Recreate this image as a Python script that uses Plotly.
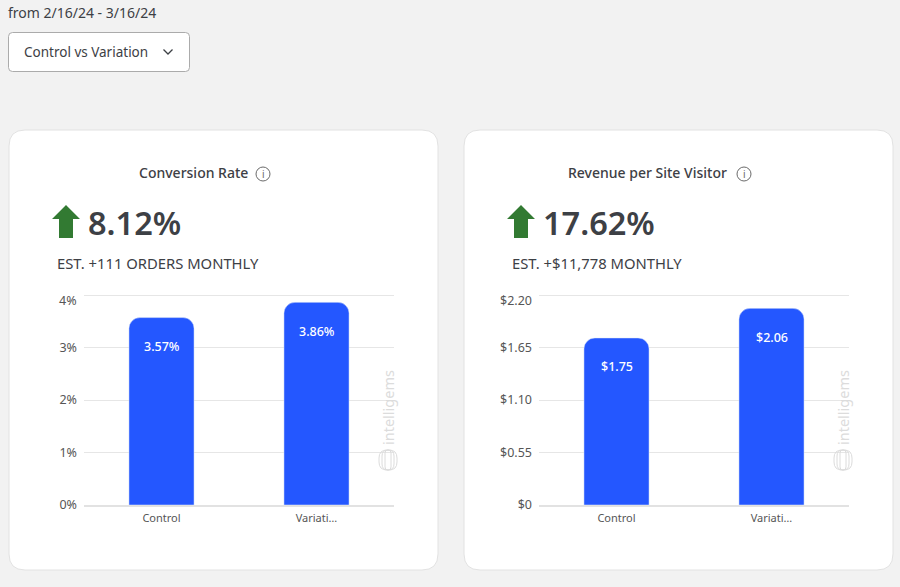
import plotly.graph_objects as go

W = 900
H = 587
FONT = "Noto Sans"
DARK = "#3d4045"
GREY = "#565656"
BLUE = "#2457ff"
GREEN = "#327a32"

categories = ["Control", "Variati…"]
conversion_values = [3.57, 3.86]
conversion_labels = ["3.57%", "3.86%"]
conversion_ticks = [0, 1, 2, 3, 4]
conversion_ticktext = ["0%", "1%", "2%", "3%", "4%"]
revenue_values = [1.75, 2.06]
revenue_labels = ["$1.75", "$2.06"]
revenue_ticks = [0, 0.55, 1.10, 1.65, 2.20]
revenue_ticktext = ["$0", "$0.55", "$1.10", "$1.65", "$2.20"]


def px(x):
    return x / W


def py(y):
    return 1 - y / H


def rounded(x0, y0, x1, y1, r):
    # rounded box in page pixels, as a paper-coordinate path
    pts = [
        f"M {px(x0 + r)} {py(y0)}",
        f"L {px(x1 - r)} {py(y0)}",
        f"Q {px(x1)} {py(y0)} {px(x1)} {py(y0 + r)}",
        f"L {px(x1)} {py(y1 - r)}",
        f"Q {px(x1)} {py(y1)} {px(x1 - r)} {py(y1)}",
        f"L {px(x0 + r)} {py(y1)}",
        f"Q {px(x0)} {py(y1)} {px(x0)} {py(y1 - r)}",
        f"L {px(x0)} {py(y0 + r)}",
        f"Q {px(x0)} {py(y0)} {px(x0 + r)} {py(y0)}",
        "Z",
    ]
    return " ".join(pts)


def poly(points, close=True):
    s = " ".join(("M" if i == 0 else "L") + f" {px(a)} {py(b)}" for i, (a, b) in enumerate(points))
    return s + (" Z" if close else "")


shapes = []
notes = []


def box(x0, y0, x1, y1, r, fill, line, width=1, layer="below"):
    shapes.append(dict(type="path", xref="paper", yref="paper", path=rounded(x0, y0, x1, y1, r),
                       fillcolor=fill, line=dict(color=line, width=width), layer=layer))


def label(x, y, text, size, color=DARK, anchor="left", angle=0, weight=400):
    notes.append(dict(xref="paper", yref="paper", x=px(x), y=py(y), text=text, showarrow=False,
                      xanchor=anchor, yanchor="middle", textangle=angle, borderpad=0, borderwidth=0,
                      font=dict(family=FONT, size=size, color=color, weight=weight)))


def card(left, title, title_x, icon_x, big, big_x, est, est_x, arrow_x):
    box(left, 130, left + 429, 570, 16, "white", "#e2e2e2", 1)
    label(title_x, 172.5, title, 14, weight=500)
    # info icon
    shapes.append(dict(type="circle", xref="paper", yref="paper", layer="above",
                       x0=px(icon_x - 7), x1=px(icon_x + 7), y0=py(181), y1=py(167),
                       line=dict(color="#6a6a6a", width=1)))
    label(icon_x, 174, "i", 10, color="#6a6a6a", anchor="center")
    # green up arrow
    a = arrow_x
    shapes.append(dict(type="path", xref="paper", yref="paper", layer="above", fillcolor=GREEN,
                       line=dict(color=GREEN, width=0),
                       path=poly([(a, 219), (a + 14, 205), (a + 28, 219), (a + 21, 219),
                                  (a + 21, 238), (a + 7, 238), (a + 7, 219)])))
    label(big_x, 223, big, 32.5, weight=600)
    label(est_x, 262.5, est, 14.8)
    # watermark
    wx = left + 379
    label(wx, 408, "intelligems", 14.5, color="#dcdcdc", anchor="center", angle=-90)
    for half, r in ((9, 8), (6, 6), (3, 3)):
        box(wx - half, 450, wx + half, 470, r, "rgba(0,0,0,0)", "#dcdcdc", 1, layer="above")


def style_axes(fig, n, x0, ticks, ticktext, top):
    x_key = "xaxis" if n == 1 else f"xaxis{n}"
    y_key = "yaxis" if n == 1 else f"yaxis{n}"
    # top tick label sits lower than its gridline, so it is drawn separately below
    shown = list(ticktext[:-1]) + [""]
    # plotly drops gridlines within 1px of the plot edge, so leave 1.5px of headroom
    fig.update_layout({
        x_key: dict(domain=[px(x0), px(x0 + 310)], range=[-0.5, 1.5], type="category",
                    showgrid=False, showline=True, linecolor="#e2e2e2", linewidth=1.5,
                    ticks="", ticklabelstandoff=2, anchor=f"y{'' if n == 1 else n}", automargin=False,
                    tickfont=dict(family=FONT, size=11, color=GREY)),
        y_key: dict(domain=[py(505), py(293.5)], range=[0, top * (1 + 1.5 / 210)], tickvals=ticks,
                    ticktext=shown, showgrid=True, gridcolor="#e6e6e6", gridwidth=1.2, zeroline=False,
                    automargin=False, ticks="", ticklabelstandoff=6, anchor=f"x{'' if n == 1 else n}",
                    tickfont=dict(family=FONT, size=12.5, color=GREY)),
    })
    notes.append(dict(xref="paper", yref=f"y{'' if n == 1 else n}", x=px(x0 - 6), y=top, yshift=-5,
                      text=ticktext[-1], showarrow=False, xanchor="right", borderpad=0,
                      font=dict(family=FONT, size=12.5, color=GREY)))


fig = go.Figure()
fig.add_trace(go.Bar(x=categories, y=conversion_values, marker=dict(color=BLUE, cornerradius=11),
                     width=0.42, xaxis="x", yaxis="y", showlegend=False))
fig.add_trace(go.Bar(x=categories, y=revenue_values, marker=dict(color=BLUE, cornerradius=11),
                     width=0.42, xaxis="x2", yaxis="y2", showlegend=False))
style_axes(fig, 1, 84, conversion_ticks, conversion_ticktext, 4)
style_axes(fig, 2, 539, revenue_ticks, revenue_ticktext, 2.2)

# value labels sit a fixed distance under the bar tops
for cat, val, txt in zip(categories, conversion_values, conversion_labels):
    notes.append(dict(xref="x", yref="y", x=cat, y=val, yshift=-29, text=txt, showarrow=False,
                      font=dict(family=FONT, size=12.5, color="white", weight=500)))
for cat, val, txt in zip(categories, revenue_values, revenue_labels):
    notes.append(dict(xref="x2", yref="y2", x=cat, y=val, yshift=-29, text=txt, showarrow=False,
                      font=dict(family=FONT, size=12.5, color="white", weight=500)))

label(8, 12, "from 2/16/24 - 3/16/24", 14)

# dropdown
box(8.5, 32.5, 189.5, 71.5, 4, "white", "#ababab", 1)
label(24, 51.5, "Control vs Variation", 13.5)
shapes.append(dict(type="path", xref="paper", yref="paper", layer="above",
                   path=poly([(163.5, 49.5), (168, 54), (172.5, 49.5)], close=False),
                   line=dict(color=DARK, width=1.3)))

card(9, "Conversion Rate", 139, 263, "8.12%", 88, "EST. +111 ORDERS MONTHLY", 57, 52)
card(464, "Revenue per Site Visitor", 568, 744, "17.62%", 543, "EST. +$11,778 MONTHLY", 512, 507)

fig.update_layout(
    width=W,
    height=H,
    margin=dict(l=0, r=0, t=0, b=0, pad=0),
    paper_bgcolor="#f2f2f2",
    plot_bgcolor="rgba(0,0,0,0)",
    shapes=shapes,
    annotations=notes,
    font=dict(family=FONT),
)
# the page's default 8px body margin would shift everything
fig.write_html("out.html", config=dict(displayModeBar=False),
               post_script="document.body.style.margin='0';document.documentElement.style.background='#f2f2f2';Plotly.Plots.resize(document.getElementById('{plot_id}'));")
